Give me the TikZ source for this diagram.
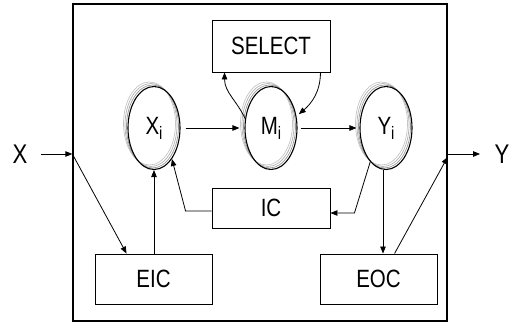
\documentclass[tikz,border=0pt]{standalone}
\usepackage{fontspec}
\newfontfamily\diafont{Liberation Sans}[FakeStretch=0.82]
\usetikzlibrary{arrows.meta, shapes.geometric, shadows}
\newcommand\lowidx[1]{\raisebox{-5pt}{\fontsize{18pt}{18pt}\selectfont #1}}
\tikzset{
  block/.style  = {draw, line width=0.9pt, minimum width=118pt, align=center, font=\diafont\fontsize{25pt}{25pt}\selectfont},
  state/.style  = {draw, ellipse, line width=1.1pt, minimum width=52pt, minimum height=83pt, inner sep=0pt,
                   font=\diafont\fontsize{25pt}{25pt}\selectfont,
                   copy shadow={shadow xshift=-4.5pt, shadow yshift=4.5pt, draw=gray!45, fill=none, line width=0.7pt},
                   copy shadow={shadow xshift=-3pt, shadow yshift=3pt, draw=gray!60, fill=none, line width=0.7pt},
                   copy shadow={shadow xshift=-1.5pt, shadow yshift=1.5pt, draw=gray!80, fill=none, line width=0.7pt}},
  arrow/.style  = {-{Triangle[length=7pt, width=5.5pt]}, line width=0.8pt}
}

\begin{document}
\begin{tikzpicture}[
  x=1pt, y=1pt,
  io/.style={font=\diafont\fontsize{27pt}{27pt}\selectfont}
]
  \useasboundingbox (0,0) rectangle (514,326);
  \node[draw, line width=1.3pt, minimum width=374pt, minimum height=317pt] (frame) at (260,163.5) {};

  \node[block, minimum height=52pt] (select) at (271,280) {SELECT};
  \node[state] (xi) at (154,198) {X\lowidx{i}};
  \node[state] (mi) at (271,198) {M\lowidx{i}};
  \node[state] (yi) at (386,198) {Y\lowidx{i}};
  \node[block, minimum height=40pt] (ic) at (271,118) {IC};
  \node[block, minimum height=50pt, minimum width=117pt] (eic) at (153.5,47) {EIC};
  \node[block, minimum height=50pt, minimum width=117pt] (eoc) at (378.5,47) {EOC};

  \node[io] (x) at (20,172) {X};
  \node[io] (y) at (502,172) {Y};
  \coordinate (xin) at (frame.west |- x);
  \coordinate[yshift=-3pt] (yout) at (frame.east |- y);

  \draw[arrow, shorten <=10pt] (x) -- (xin);
  \draw[arrow] (xin) -- ([xshift=32pt]eic.north west);
  \draw[arrow] (xi.south |- eic.north) -- (xi.south);
  \draw[arrow] ([xshift=5pt]xi.east) -- ([xshift=-5pt]mi.west);
  \draw[arrow] ([xshift=3pt]mi.east) -- ([xshift=-3pt]yi.west);
  \draw[arrow] (mi.160) to[out=115, in=-90] ([xshift=13pt]select.south west);
  \draw[arrow, shorten >=3pt] ([xshift=-10pt]select.south east) to[out=-90, in=40] (mi.25);
  \draw[arrow] (yi.245) -- ([xshift=24pt, yshift=-5pt]ic.east) -- ([yshift=-5pt]ic.east);
  \draw[arrow] ([yshift=-3pt]ic.west) -- ++(-26pt,0) -- (xi.300);
  \draw[arrow] ([xshift=-3pt]yi.south) -- ([xshift=-3pt]yi.south |- eoc.north);
  \draw[arrow] ([xshift=75pt]eoc.north west) -- (yout);
  \draw[arrow, shorten >=11pt] (frame.east |- y) -- (y);
\end{tikzpicture}
\end{document}
